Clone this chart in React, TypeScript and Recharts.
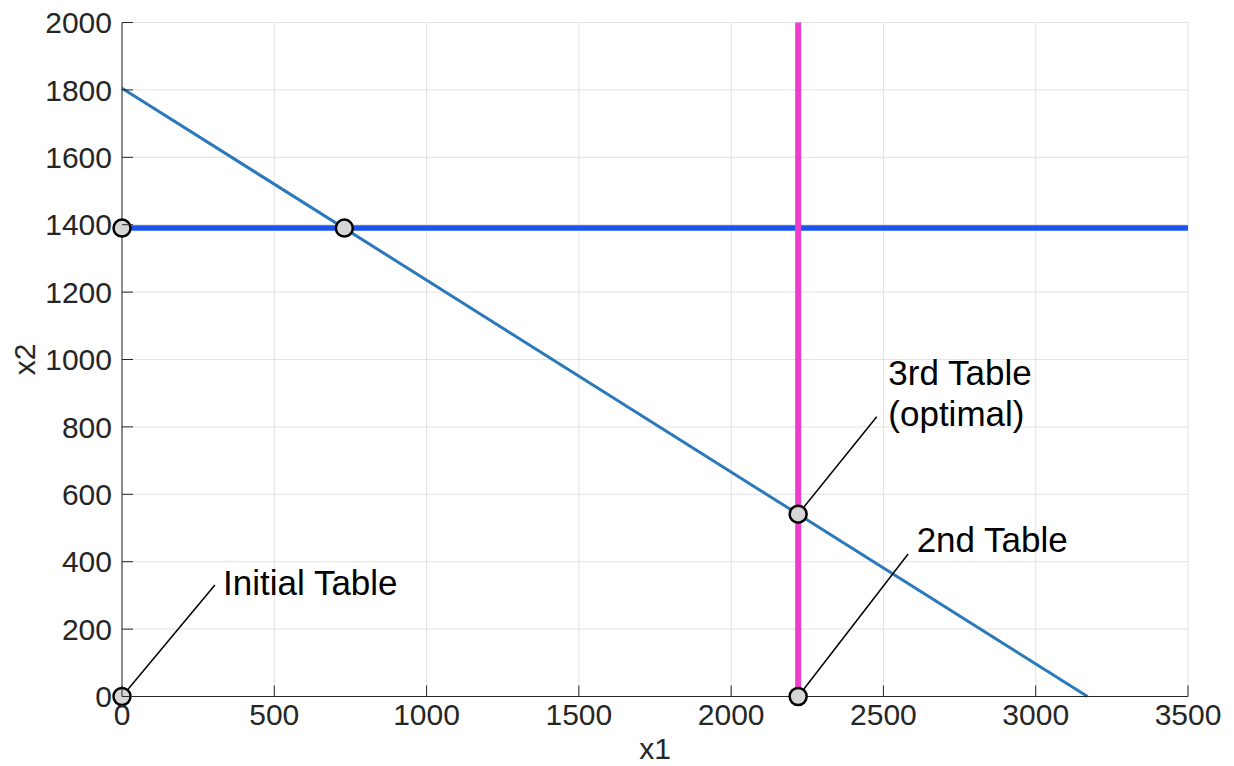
import React from 'react';
import { ComposedChart, XAxis, YAxis, CartesianGrid, Line, Scatter, Label } from 'recharts';

const X_TICKS = [0, 500, 1000, 1500, 2000, 2500, 3000, 3500];
const Y_TICKS = [0, 200, 400, 600, 800, 1000, 1200, 1400, 1600, 1800, 2000];

const constraintDiag = [
  { x: 0, y: 1805 },
  { x: 3170, y: 0 },
];
const constraintH = [
  { x: 0, y: 1390 },
  { x: 3500, y: 1390 },
];
const constraintV = [
  { x: 2220, y: 0 },
  { x: 2220, y: 2000 },
];
const tablePoints = [
  { x: 0, y: 0 },
  { x: 0, y: 1390 },
  { x: 730, y: 1390 },
  { x: 2220, y: 541 },
  { x: 2220, y: 0 },
];
const annotations = [
  { lines: ['Initial Table'], px: 0, py: 0, lx: 305, ly: 331, tx: 332, ty: 301 },
  { lines: ['2nd Table'], px: 2220, py: 0, lx: 2581, ly: 423, tx: 2609, ty: 430 },
  { lines: ['3rd Table', '(optimal)'], px: 2220, py: 541, lx: 2478, ly: 830, tx: 2516, ty: 924 },
];

const FONT = '"Liberation Sans", Arial, Helvetica, sans-serif';
const AXIS_COLOR = '#262626';
const TICK_LEN = 11;
const X_TM = 7;
const Y_TM = 10;

const XTick = (props: any) => {
  const { x, y, payload } = props;
  const ay = y - X_TM;
  return (
    <g>
      <line x1={x} y1={ay} x2={x} y2={ay - TICK_LEN} stroke={AXIS_COLOR} strokeWidth={1} />
      <text x={x} y={y} dy="0.71em" textAnchor="middle" fontSize={30} fontFamily={FONT} fill={AXIS_COLOR}>
        {payload.value}
      </text>
    </g>
  );
};

const YTick = (props: any) => {
  const { x, y, payload } = props;
  const ax = x + Y_TM;
  return (
    <g>
      <line x1={ax} y1={y} x2={ax + TICK_LEN} y2={y} stroke={AXIS_COLOR} strokeWidth={1} />
      <text x={x} y={y} dy="0.355em" textAnchor="end" fontSize={30} fontFamily={FONT} fill={AXIS_COLOR}>
        {payload.value}
      </text>
    </g>
  );
};

const Marker = (props: any) => {
  const { cx, cy } = props;
  if (cx == null || cy == null) return null;
  return <circle cx={cx} cy={cy} r={8.5} fill="#d6d6d6" stroke="#000" strokeWidth={2.5} />;
};

const AnnotationText = (props: any) => {
  const { cx, cy } = props;
  const lines: string[] = (props.payload && props.payload.lines) || props.lines || [];
  if (cx == null || cy == null) return null;
  return (
    <text x={cx} y={cy} fontSize={35} fontFamily={FONT} fill="#000">
      {lines.map((l, i) => (
        <tspan key={i} x={cx} dy={i === 0 ? 0 : 41}>
          {l}
        </tspan>
      ))}
    </text>
  );
};

const textPoints = annotations.map((a) => ({ x: a.tx, y: a.ty, lines: a.lines }));

export default function App() {
  return (
    <div style={{ position: 'absolute', left: 0, top: 0, width: 1234, height: 766, background: '#fff' }}>
      <ComposedChart width={1234} height={766} margin={{ top: 22.5, right: 46, bottom: 0, left: 0 }}>
        <CartesianGrid stroke="#e2e2e2" strokeWidth={1} />
        <XAxis
          dataKey="x"
          type="number"
          domain={[0, 3500]}
          ticks={X_TICKS}
          height={69.5}
          tickSize={0}
          tickMargin={X_TM}
          tickLine={false}
          tick={<XTick />}
          axisLine={{ stroke: AXIS_COLOR, strokeWidth: 1 }}
          interval={0}
        >
          <Label
            content={(p: any) => {
              const vb = p.viewBox || { x: 122, y: 696.5, width: 1066, height: 69.5 };
              return (
                <text x={vb.x + vb.width / 2} y={vb.y + 62} textAnchor="middle" fontSize={30} fontFamily={FONT} fill={AXIS_COLOR}>
                  x1
                </text>
              );
            }}
          />
        </XAxis>
        <YAxis
          dataKey="y"
          type="number"
          domain={[0, 2000]}
          ticks={Y_TICKS}
          width={122}
          tickSize={0}
          tickMargin={Y_TM}
          tickLine={false}
          tick={<YTick />}
          axisLine={{ stroke: AXIS_COLOR, strokeWidth: 1 }}
          interval={0}
        >
          <Label
            content={(p: any) => {
              const vb = p.viewBox || { x: 0, y: 22.5, width: 122, height: 674 };
              const lx = vb.x + 35;
              const ly = vb.y + vb.height / 2;
              return (
                <text x={lx} y={ly} textAnchor="middle" fontSize={30} fontFamily={FONT} fill={AXIS_COLOR} transform={`rotate(-90, ${lx}, ${ly})`}>
                  x2
                </text>
              );
            }}
          />
        </YAxis>
        <XAxis
          xAxisId="top"
          orientation="top"
          type="number"
          domain={[0, 3500]}
          ticks={X_TICKS}
          allowDataOverflow
          height={0}
          mirror
          tick={false}
          tickSize={TICK_LEN}
          tickLine={{ stroke: AXIS_COLOR, strokeWidth: 1 }}
          axisLine={{ stroke: AXIS_COLOR, strokeWidth: 1 }}
          interval={0}
        />
        <YAxis
          yAxisId="right"
          orientation="right"
          type="number"
          domain={[0, 2000]}
          ticks={Y_TICKS}
          allowDataOverflow
          width={0}
          mirror
          tick={false}
          tickSize={TICK_LEN}
          tickLine={{ stroke: AXIS_COLOR, strokeWidth: 1 }}
          axisLine={{ stroke: AXIS_COLOR, strokeWidth: 1 }}
          interval={0}
        />
        <Line data={constraintDiag} dataKey="y" type="linear" stroke="#2b79ba" strokeWidth={3} dot={false} activeDot={false} isAnimationActive={false} />
        <Line data={constraintH} dataKey="y" type="linear" stroke="#1a55ef" strokeWidth={5.5} dot={false} activeDot={false} isAnimationActive={false} />
        <Line data={constraintV} dataKey="y" type="linear" stroke="#f03ccb" strokeWidth={6} dot={false} activeDot={false} isAnimationActive={false} />
        {annotations.map((a, i) => (
          <Line
            key={`lead-${i}`}
            data={[
              { x: a.px, y: a.py },
              { x: a.lx, y: a.ly },
            ]}
            dataKey="y"
            type="linear"
            stroke="#000"
            strokeWidth={1.5}
            dot={false}
            activeDot={false}
            isAnimationActive={false}
          />
        ))}
        <Scatter data={tablePoints} dataKey="y" shape={<Marker />} isAnimationActive={false} />
        <Scatter data={textPoints} dataKey="y" shape={<AnnotationText />} isAnimationActive={false} />
      </ComposedChart>
    </div>
  );
}
